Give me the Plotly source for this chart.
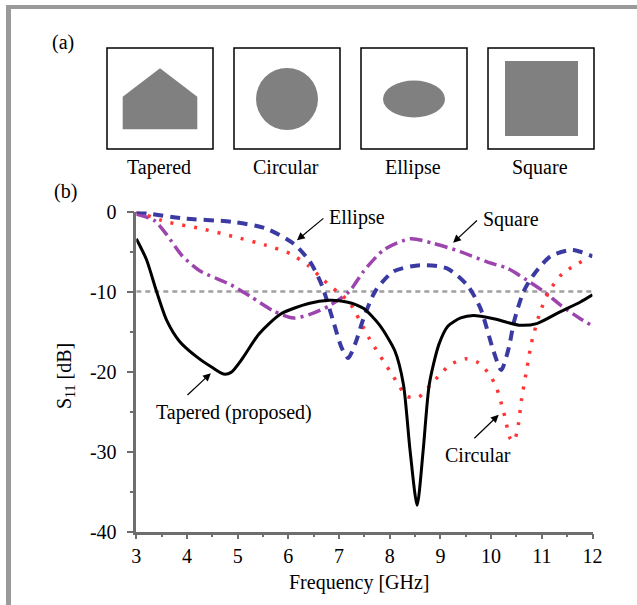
import plotly.graph_objects as go

# ---------------- data ----------------
freq_tapered = [3.0, 3.2, 3.4, 3.6, 3.85, 4.2, 4.5, 4.72, 4.87, 5.1, 5.42, 5.85, 6.4, 6.8, 7.15,
                7.48, 7.8, 8.1, 8.27, 8.4, 8.54, 8.66, 8.78, 8.97, 9.15, 9.4, 9.65, 10.05, 10.55,
                10.9, 11.37, 11.76, 12.0]
s11_tapered = [-3.4, -6.0, -10.0, -13.6, -16.2, -18.2, -19.5, -20.3, -20.1, -18.3, -15.3, -12.8,
               -11.5, -11.1, -11.3, -12.1, -14.2, -17.4, -21.6, -29.8, -36.7, -29.8, -21.6,
               -16.6, -14.3, -13.3, -13.0, -13.4, -14.2, -14.0, -12.5, -11.3, -10.4]

freq_ellipse = [3.0, 3.9, 4.9, 5.55, 6.1, 6.43, 6.66, 6.89, 7.05, 7.18, 7.32, 7.48, 7.71, 8.07,
                8.6, 9.13, 9.53, 9.79, 10.05, 10.2, 10.35, 10.45, 10.64, 10.84, 11.17, 11.6, 12.0]
s11_ellipse = [0.0, -0.85, -1.3, -2.1, -4.0, -6.3, -9.2, -13.8, -17.0, -18.3, -16.5, -13.4, -10.0,
               -7.5, -6.7, -7.1, -9.2, -12.1, -17.5, -19.8, -17.0, -13.8, -10.0, -7.9, -5.6,
               -4.8, -5.6]

freq_circular = [3.0, 3.6, 4.25, 4.9, 5.55, 6.05, 6.4, 6.7, 6.96, 7.2, 7.6, 8.05, 8.34, 8.57,
                 8.8, 9.0, 9.2, 9.49, 9.75, 9.95, 10.1, 10.25, 10.38, 10.45, 10.52, 10.6, 10.7,
                 10.8, 10.97, 11.15, 11.4, 11.85]
s11_circular = [0.0, -1.3, -2.1, -3.1, -4.2, -5.3, -6.8, -8.6, -10.0, -11.3, -15.9, -20.4, -23.1,
                -23.2, -21.7, -20.3, -19.1, -18.4, -18.9, -20.2, -21.9, -25.1, -28.4, -28.7,
                -27.3, -23.5, -19.8, -16.3, -12.5, -9.9, -7.8, -6.0]

freq_square = [3.0, 3.35, 3.6, 3.9, 4.25, 4.85, 5.25, 5.7, 6.1, 6.45, 6.8, 7.2, 7.48, 7.88, 8.41,
               8.87, 9.39, 9.92, 10.32, 10.71, 11.04, 11.37, 11.76, 12.0]
s11_square = [-0.3, -1.1, -2.9, -5.5, -7.4, -9.1, -10.6, -12.4, -13.3, -12.8, -11.8, -10.0, -7.5,
              -4.8, -3.4, -4.0, -5.0, -6.3, -7.1, -8.6, -10.0, -11.7, -13.4, -14.3]

threshold_db = -10
x_ticks = [3, 4, 5, 6, 7, 8, 9, 10, 11, 12]
y_ticks = [0, -10, -20, -30, -40]
shape_labels = ["Tapered", "Circular", "Ellipse", "Square"]

# ---------------- figure ----------------
W, H = 637, 605
FONT = "Liberation Serif"


def px(x):
    return x / W


def py(y):
    return 1 - y / H


fig = go.Figure()

fig.add_trace(go.Scatter(x=[3, 12], y=[threshold_db, threshold_db], mode="lines",
                         line=dict(color="#a0a0a0", width=2.5, dash="5px,4px"),
                         showlegend=False, hoverinfo="skip"))
fig.add_trace(go.Scatter(x=freq_square, y=s11_square, mode="lines", name="Square",
                         line=dict(color="#9c45ad", width=3.5, dash="13px,5px,3px,5px",
                                   shape="spline", smoothing=0.7)))
fig.add_trace(go.Scatter(x=freq_circular, y=s11_circular, mode="lines", name="Circular",
                         line=dict(color="#ff3535", width=3.5, dash="3px,9px",
                                   shape="spline", smoothing=0.6)))
fig.add_trace(go.Scatter(x=freq_ellipse, y=s11_ellipse, mode="lines", name="Ellipse",
                         line=dict(color="#3a3aa2", width=4, dash="10px,7px",
                                   shape="spline", smoothing=0.7)))
fig.add_trace(go.Scatter(x=freq_tapered, y=s11_tapered, mode="lines", name="Tapered (proposed)",
                         line=dict(color="black", width=3, shape="spline", smoothing=0.7)))

axis_col = "#6e6e6e"
fig.update_xaxes(domain=[px(136.3), px(592.5)], range=[3, 12], tickvals=x_ticks,
                 ticks="outside", ticklen=5, tickwidth=2, tickcolor=axis_col,
                 showline=True, linecolor=axis_col, linewidth=2.5, showgrid=False,
                 zeroline=False, ticklabelstandoff=0, automargin=False,
                 tickfont=dict(family=FONT, size=20, color="black"),
                 minor=dict(ticks="outside", ticklen=3, tickwidth=2, tickcolor=axis_col,
                            tick0=3.5, dtick=1, showgrid=False))
fig.update_yaxes(domain=[py(531.7), py(211.5)], range=[-40, 0], tickvals=y_ticks,
                 ticktext=[str(v) for v in y_ticks],
                 ticks="outside", ticklen=7, tickwidth=2, tickcolor=axis_col,
                 showline=True, linecolor=axis_col, linewidth=2.5, showgrid=False,
                 zeroline=False, ticklabelstandoff=6, automargin=False,
                 tickfont=dict(family=FONT, size=20, color="black"),
                 minor=dict(ticks="outside", ticklen=4, tickwidth=2, tickcolor=axis_col,
                            tick0=-5, dtick=10, showgrid=False))

shapes = []
# frame of the figure
shapes.append(dict(type="rect", xref="paper", yref="paper", x0=px(6), x1=px(11), y0=py(605),
                   y1=py(5), fillcolor="#9a9a9a", line=dict(width=0)))
shapes.append(dict(type="rect", xref="paper", yref="paper", x0=px(6), x1=px(637), y0=py(9),
                   y1=py(5), fillcolor="#9a9a9a", line=dict(width=0)))

# (a) antenna outlines
box_left = [107, 234, 361, 488]
box_w, box_top, box_bot = 106, 48, 149
grey = "#808080"
for bl in box_left:
    shapes.append(dict(type="rect", xref="paper", yref="paper", x0=px(bl), x1=px(bl + box_w),
                       y0=py(box_bot), y1=py(box_top), line=dict(color="black", width=1.5),
                       fillcolor="white"))
# tapered pentagon
pts = [(122.7, 129.3), (122.7, 96.7), (160, 68.3), (197.3, 96.7), (197.3, 129.3)]
path = "M " + " L ".join(f"{px(a):.5f},{py(b):.5f}" for a, b in pts) + " Z"
shapes.append(dict(type="path", xref="paper", yref="paper", path=path, fillcolor=grey,
                   line=dict(width=0)))
# circle
shapes.append(dict(type="circle", xref="paper", yref="paper", x0=px(287 - 31), x1=px(287 + 31),
                   y0=py(99 + 31), y1=py(99 - 31), fillcolor=grey, line=dict(width=0)))
# ellipse
shapes.append(dict(type="circle", xref="paper", yref="paper", x0=px(414 - 31), x1=px(414 + 31),
                   y0=py(99 + 18.5), y1=py(99 - 18.5), fillcolor=grey, line=dict(width=0)))
# square
shapes.append(dict(type="rect", xref="paper", yref="paper", x0=px(505), x1=px(578),
                   y0=py(136), y1=py(61), fillcolor=grey, line=dict(width=0)))
fig.update_layout(shapes=shapes)

ann = []
tf = dict(family=FONT, size=20, color="black")


def ptext(text, x, y, **kw):
    return dict(text=text, x=px(x), y=py(y), xref="paper", yref="paper", showarrow=False,
                xanchor="center", yanchor="middle", font=tf, **kw)


ann.append(ptext("(a)", 63, 43))
ann.append(ptext("(b)", 65, 192))
for lab, bl in zip(shape_labels, box_left):
    ann.append(ptext(lab, bl + box_w / 2 - 1, 167))
ann.append(ptext("Frequency [GHz]", 359, 582))
ann.append(ptext("S<sub>11</sub> [dB]", 65, 376, textangle=-90))

# curve labels with arrows (positions in data units)
labels = [
    ("Ellipse", 7.35, -0.7, 6.72, -0.7, 6.17, -3.6),
    ("Square", 10.40, -0.95, 9.75, -0.95, 9.25, -3.9),
    ("Tapered (proposed)", 4.93, -25.1, 3.98, -23.1, 4.47, -20.2),
    ("Circular", 9.74, -30.4, 9.64, -28.5, 10.15, -25.4),
]
for txt, tx, ty, ax, ay, hx, hy in labels:
    ann.append(dict(text=txt, x=tx, y=ty, xref="x", yref="y", showarrow=False, font=tf,
                    xanchor="center", yanchor="middle"))
    ann.append(dict(text="", x=hx, y=hy, xref="x", yref="y", ax=ax, ay=ay, axref="x",
                    ayref="y", showarrow=True, arrowhead=2, arrowsize=1.3, arrowwidth=1.2,
                    arrowcolor="black"))
fig.update_layout(annotations=ann)

fig.update_layout(width=W, height=H, margin=dict(l=0, r=0, t=0, b=0),
                  paper_bgcolor="white", plot_bgcolor="white", showlegend=False,
                  font=dict(family=FONT, size=20, color="black"))

fig.write_html("out.html")
